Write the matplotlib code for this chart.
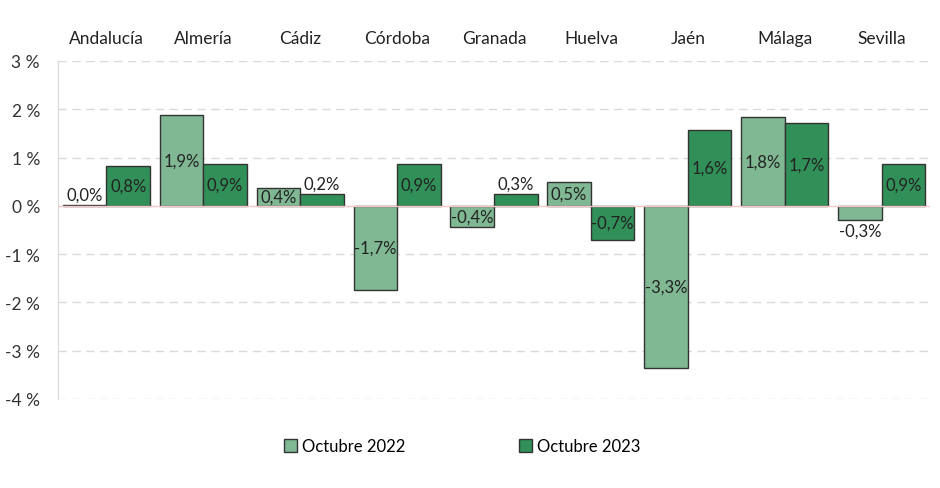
import matplotlib
matplotlib.use("Agg")
import matplotlib.pyplot as plt
import numpy as np

provinces = ["Andalucía", "Almería", "Cádiz", "Córdoba", "Granada", "Huelva", "Jaén", "Málaga", "Sevilla"]
oct_2022 = [0.02, 1.88, 0.37, -1.74, -0.43, 0.50, -3.35, 1.84, -0.29]
oct_2023 = [0.83, 0.87, 0.25, 0.87, 0.25, -0.70, 1.57, 1.72, 0.87]
labels_2022 = ["0,0%", "1,9%", "0,4%", "-1,7%", "-0,4%", "0,5%", "-3,3%", "1,8%", "-0,3%"]
labels_2023 = ["0,8%", "0,9%", "0,2%", "0,9%", "0,3%", "-0,7%", "1,6%", "1,7%", "0,9%"]
series_names = ["Octubre 2022", "Octubre 2023"]
yticks = [3, 2, 1, 0, -1, -2, -3, -4]
ytick_labels = ["3 %", "2 %", "1 %", "0 %", "-1 %", "-2 %", "-3 %", "-4 %"]

plt.rcParams['font.family'] = ['Lato', 'DejaVu Sans']
c22 = "#7fb893"
c23 = "#318f58"
edge = "#333333"

fig = plt.figure(figsize=(9.4, 4.89), dpi=100)
ax = fig.add_axes([58/940, 1-400/489, 872/940, 338/489])

x = np.arange(len(provinces))
w = 0.45
b1 = ax.bar(x - w/2, oct_2022, w, color=c22, edgecolor=edge, linewidth=1.0, label=series_names[0], zorder=3)
b2 = ax.bar(x + w/2, oct_2023, w, color=c23, edgecolor=edge, linewidth=1.0, label=series_names[1], zorder=3)

def put_labels(xs, vals, labs):
    for xi, v, lab in zip(xs, vals, labs):
        if abs(v) >= 0.35:
            ax.text(xi, v/2, lab, ha="center", va="center", fontsize=12, color="#222222", zorder=5)
        else:
            if v >= 0:
                ax.text(xi, v + 0.05, lab, ha="center", va="bottom", fontsize=12, color="#222222", zorder=5)
            else:
                ax.text(xi, v - 0.05, lab, ha="center", va="top", fontsize=12, color="#222222", zorder=5)

put_labels(x - w/2, oct_2022, labels_2022)
put_labels(x + w/2, oct_2023, labels_2023)

ax.set_xlim(-0.5, len(provinces) - 0.5)
ax.set_ylim(-4, 3)
ax.set_yticks(yticks)
ax.set_yticklabels(ytick_labels, fontsize=12.5, color="#333333")
for yv in yticks:
    if yv != 0:
        ax.axhline(yv, color="#d9d9d9", linestyle=(0, (6, 4)), linewidth=1.0, zorder=1)
ax.axhline(0, color="#f4c6c6", linewidth=1.0, zorder=4)
ax.tick_params(axis="y", length=0, pad=13)
ax.set_xticks(x)
ax.set_xticklabels(provinces, fontsize=12.5, color="#222222")
ax.xaxis.tick_top()
ax.tick_params(axis="x", length=0, pad=11)
for s in ["top", "right", "bottom"]:
    ax.spines[s].set_visible(False)
ax.spines["left"].set_color("#d9d9d9")

fig.legend(handles=[b1, b2], labels=series_names, loc="center", bbox_to_anchor=(0.492, 0.085),
           ncol=2, frameon=False, fontsize=12, columnspacing=6.8, handlelength=0.8, handleheight=0.8,
           handletextpad=0.3)

fig.savefig("out.png", dpi=100)
